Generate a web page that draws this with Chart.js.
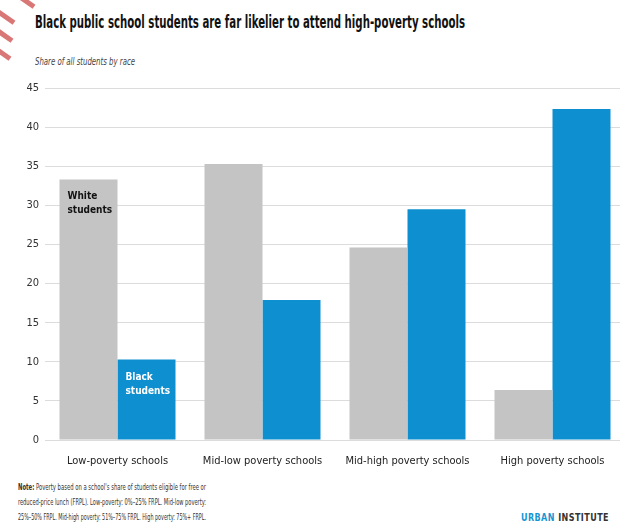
<!DOCTYPE html>
<html lang="en">
<head>
  <meta charset="UTF-8">
  <title>Black public school students and high-poverty schools</title>
  <script src="https://cdn.jsdelivr.net/npm/chart.js"></script>
  <style>
    body { margin: 0; width: 620px; height: 529px; overflow: hidden; background: #fff;
           font-family: "Liberation Sans Narrow", "DejaVu Sans Condensed", sans-serif; color: #222; position: relative; }
    .fit { position: absolute; white-space: nowrap; transform-origin: left center; }
    #title { left: 35px; top: 12px; font-size: 17px; font-weight: bold; color: #111; }
    #subtitle { left: 35px; top: 55px; font-size: 11px; font-style: italic; color: #444; }
    #chart-box { position: absolute; left: 0; top: 70px; width: 630px; height: 400px; }
    .note { left: 18px; font-size: 9px; color: #333; }
    #logo { left: 521px; top: 512px; font-size: 10px; font-weight: bold; letter-spacing: 0.5px; color: #333; }
    #logo span { color: #1696d2; }
    /* pink corner marks */
    .stripe { position: absolute; width: 22px; height: 5px; background: #d97777; transform: rotate(35deg); }
  </style>
</head>
<body>
  <div class="stripe" style="left:14px;top:-2px"></div>
  <div class="stripe" style="left:-6px;top:14px"></div>
  <div class="stripe" style="left:-8px;top:32px"></div>
  <div class="stripe" style="left:-10px;top:50px"></div>
  <div id="title" class="fit" data-w="430">Black public school students are far likelier to attend high-poverty schools</div>
  <div id="subtitle" class="fit" data-w="100">Share of all students by race</div>
  <div id="chart-box"><canvas id="school-chart"></canvas></div>
  <div class="fit note" style="top:482px" data-w="188"><b>Note:</b> Poverty based on a school's share of students eligible for free or</div>
  <div class="fit note" style="top:497px" data-w="188">reduced-price lunch (FRPL). Low-poverty: 0%–25% FRPL. Mid-low poverty:</div>
  <div class="fit note" style="top:512px" data-w="188">25%–50% FRPL. Mid-high poverty: 51%–75% FRPL. High poverty: 75%+ FRPL.</div>
  <div id="logo" class="fit" data-w="88"><span>URBAN</span> INSTITUTE</div>

  <script>
    // chart data
    const categories = ['Low-poverty schools', 'Mid-low poverty schools', 'Mid-high poverty schools', 'High poverty schools'];
    const whiteStudents = [33.3, 35.3, 24.6, 6.4];
    const blackStudents = [10.3, 17.9, 29.5, 42.3];
    const seriesNames = ['White students', 'Black students'];
    const yTicks = [0, 5, 10, 15, 20, 25, 30, 35, 40, 45];

    const condensed = '"Liberation Sans Narrow", "DejaVu Sans Condensed", sans-serif';

    // squeeze text blocks to the width they have in the picture
    document.querySelectorAll('.fit').forEach(el => {
      const target = +el.dataset.w;
      const w = el.getBoundingClientRect().width;
      if (w > 0) el.style.transform = 'scaleX(' + (target / w) + ')';
    });

    // series names written inside the first pair of bars
    const barLabels = {
      id: 'barLabels',
      afterDatasetsDraw(chart) {
        const ctx = chart.ctx;
        ctx.save();
        ctx.font = 'bold 10px ' + condensed;
        ctx.textBaseline = 'top';
        chart.data.datasets.forEach((ds, i) => {
          const bar = chart.getDatasetMeta(i).data[0];
          const left = bar.x - bar.width / 2 + 8;
          const words = ds.label.split(' ');
          ctx.fillStyle = i === 0 ? '#111' : '#fff';
          const top = i === 0 ? bar.y + 12 : bar.y + 13;
          words.forEach((w, k) => ctx.fillText(w, left, top + k * 14));
        });
        ctx.restore();
      }
    };

    const ctx = document.getElementById('school-chart').getContext('2d');
    new Chart(ctx, {
      type: 'bar',
      data: {
        labels: categories,
        datasets: [{
          label: seriesNames[0],
          data: whiteStudents,
          backgroundColor: '#c4c4c4'
        }, {
          label: seriesNames[1],
          data: blackStudents,
          backgroundColor: '#0e8fcf'
        }]
      },
      options: {
        responsive: true,
        maintainAspectRatio: false,
        animation: false,
        layout: { padding: { top: 18, right: 5, left: 0, bottom: 0 } },
        datasets: { bar: { categoryPercentage: 0.8, barPercentage: 1.0 } },
        scales: {
          x: {
            grid: { display: false },
            border: { display: false },
            ticks: { color: '#222', font: { family: condensed, size: 11 }, padding: 7, maxRotation: 0 },
            afterFit: s => { s.height = 30; }
          },
          y: {
            min: 0,
            max: 45,
            afterBuildTicks: s => { s.ticks = yTicks.map(v => ({ value: v })); },
            grid: { color: '#dcdcdc', drawTicks: false },
            border: { display: false },
            ticks: { color: '#333', font: { family: condensed, size: 11 }, padding: 6 },
            afterFit: s => { s.width = 45; }
          }
        },
        plugins: {
          legend: { display: false },
          tooltip: { enabled: false }
        }
      },
      plugins: [barLabels]
    });
  </script>
</body>
</html>
